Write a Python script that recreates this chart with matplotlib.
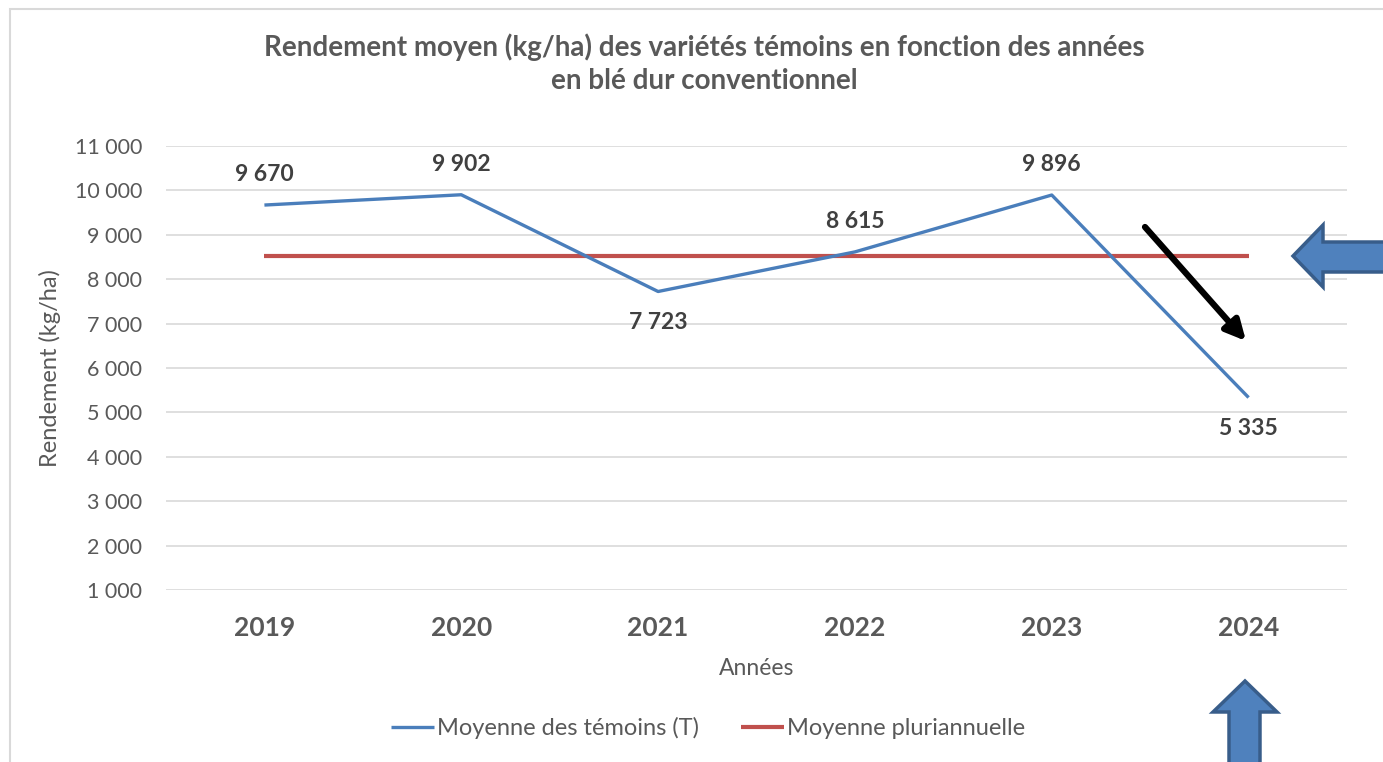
import matplotlib
matplotlib.use("Agg")
import matplotlib.pyplot as plt
from matplotlib.patches import Polygon, Rectangle, FancyArrowPatch
from matplotlib.ticker import FuncFormatter

years = ["2019", "2020", "2021", "2022", "2023", "2024"]
temoins = [9670, 9902, 7723, 8615, 9896, 5335]
pluri = [8523, 8523, 8523, 8523, 8523, 8523]
label_above = [True, True, False, True, True, False]

W, H = 1383, 762
plt.rcParams['font.family'] = ['Lato', 'DejaVu Sans']
TXT = '#595959'
BLUE = '#4a7ebb'
RED = '#c0504d'

fig = plt.figure(figsize=(W / 100, H / 100), dpi=100)

def fx(x):
    return x / W

def fy(y):
    return 1 - y / H

ax = fig.add_axes([fx(166), fy(590), fx(1347) - fx(166), fy(146) - fy(590)])
x = list(range(len(years)))
ax.plot(x, temoins, color=BLUE, lw=2.4, solid_capstyle='butt', label='Moyenne des témoins (T)', zorder=3)
ax.plot(x, pluri, color=RED, lw=3.0, solid_capstyle='butt', label='Moyenne pluriannuelle', zorder=2)

for xi, v, up in zip(x, temoins, label_above):
    ax.annotate(f"{v:,.0f}".replace(",", " "), (xi, v), xytext=(0, 22 if up else -22),
                textcoords='offset points', ha='center', va='center',
                fontsize=16.5, fontweight='bold', color='#404040')

ax.set_xlim(-0.5, 5.5)
ax.set_ylim(1000, 11000)
ax.set_yticks(range(1000, 11001, 1000))
ax.yaxis.set_major_formatter(FuncFormatter(lambda v, p: f"{v:,.0f}".replace(",", " ")))
ax.set_xticks(x)
ax.set_xticklabels(years, fontsize=19, fontweight='bold', color=TXT)
ax.tick_params(axis='y', length=0, pad=17, labelsize=15.5, labelcolor=TXT)
ax.tick_params(axis='x', length=0, pad=19)
ax.grid(axis='y', color='#d9d9d9', lw=1.2)
ax.set_axisbelow(True)
for s in ax.spines.values():
    s.set_visible(False)

ax.set_ylabel("Rendement (kg/ha)", fontsize=17, color=TXT, labelpad=10)
ax.set_xlabel("Années", fontsize=16.5, color=TXT, labelpad=13)

fig.text(fx(704), fy(47), "Rendement moyen (kg/ha) des variétés témoins en fonction des années",
         ha='center', va='center', fontsize=20, fontweight='bold', color=TXT)
fig.text(fx(704), fy(81), "en blé dur conventionnel",
         ha='center', va='center', fontsize=20, fontweight='bold', color=TXT)

leg = fig.legend(loc='center', bbox_to_anchor=(fx(708), fy(728)), ncol=2, frameon=False,
                 fontsize=17, handlelength=1.8, handletextpad=0.13, columnspacing=1.8)
for t in leg.get_texts():
    t.set_color(TXT)

# chart frame
fig.add_artist(Rectangle((fx(10), fy(775)), fx(1400) - fx(10), fy(9) - fy(775),
                         transform=fig.transFigure, fill=False, ec='#d9d9d9', lw=1.5))

# black arrow
fig.add_artist(FancyArrowPatch((fx(1145), fy(227)), (fx(1246), fy(341)),
               transform=fig.transFigure, arrowstyle='-|>,head_length=12,head_width=6',
               mutation_scale=1, color='black', lw=4.5, shrinkA=0, shrinkB=0))

# left-pointing block arrow
left_pts = [(1293, 256), (1323, 225), (1323, 242), (1390, 242), (1390, 272), (1323, 272), (1323, 287)]
fig.add_artist(Polygon([(fx(a), fy(b)) for a, b in left_pts], closed=True, transform=fig.transFigure,
                       fc='#4f81bd', ec='#385d8a', lw=2.5))

# up-pointing block arrow
up_pts = [(1245, 681), (1277, 712), (1260, 712), (1260, 775), (1229, 775), (1229, 712), (1213, 712)]
fig.add_artist(Polygon([(fx(a), fy(b)) for a, b in up_pts], closed=True, transform=fig.transFigure,
                       fc='#4f81bd', ec='#385d8a', lw=2.5))

fig.savefig("out.png", dpi=100)
